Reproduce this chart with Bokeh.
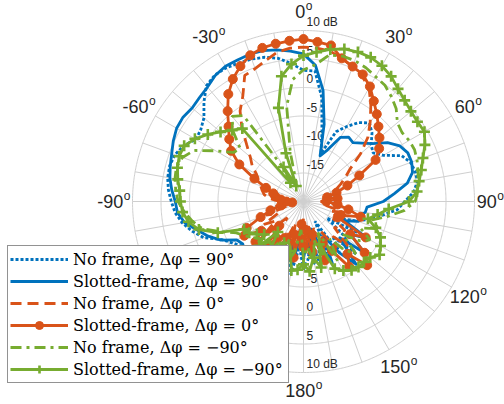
import numpy as np
from bokeh.plotting import figure
from bokeh.models import Range1d, Legend, LegendItem
from bokeh.embed import file_html
from bokeh.resources import INLINE

# ---------------- data (dB vs azimuth angle in degrees) ----------------
THETA_DEG = list(range(-180, 180, 5))

# No frame, dphi = 90
NF_90 = [-8, -12, -7, -10, -14, -9, -11, -8, -10, -9,
         -7.5, -6.5, -5.5, -4.2, -1.4, 0.2, 1.6, 2.6, 3.2, 3.8,
         4.2, 4.3, 4.0, 3.2, 1.8, 2.0, 2.8, 4.7, 6.5, 7.1,
         7.1, 6.8, 6.6, 6.2, 5.5, 4.3, 3.0, 3.0, -1.5, -7.5,
         -11, -6.5, -4.8, -3.1, -2.0, -3.0, -4.5, -5.1, -3.8, -1.0,
         0.0, 0.3, 0.3, -0.6, -2.2, -3.5, -6, -8, -10, -13,
         -9, -15, -11, -7, -12, -9, -16, -10, -13, -8, -14, -10]
# Slotted-frame, dphi = 90
SF_90 = [-10, -14, -9, -12, -8, -11, -10, -7, -9, -8,
         -6.5, -7, -6.5, -4, -2.2, -0.7, 1.2, 2.2, 2.5, 3.2,
         3.8, 4.2, 4.6, 5.2, 5.7, 5.8, 5.5, 5.8, 6.2, 7.0,
         7.4, 7.4, 7.5, 7.4, 7.0, 6.5, 5.9, 4.0, -0.2, -6,
         -11.5, -10, -7, -6.2, -6.5, -5.5, -4.2, -2, -0.5, 0.2,
         0.2, -0.2, -1.5, -4, -6, -8.8, -9, -10, -9.8, -12,
         -7, -10, -6, -11, -5.6, -9, -13, -8, -12, -15, -9, -13]
# No frame, dphi = 0
NF_0 = [-17, -12, -15, -11, -16, -12, -14, -10, -13, -16,
        -11, -14, -12, -15, -13, -17, -15, -18, -16, -14,
        -13, -12.5, -12, -11.2, -10.5, -9, -7.8, -5.9, -3.2, -0.6,
        1.3, 4.4, 4.8, 5.6, 6.6, 7.0, 7.1, 7.0, 6.8, 6.0,
        5.2, 4.3, 3.0, 0.6, -1.8, -4.0, -6.9, -10, -11.5, -12.8,
        -14, -15, -15.8, -15, -17, -14, -16, -13, -15, -12,
        -14, -11, -13, -9, -12, -10, -14, -11, -15, -13, -16, -12]
# Slotted-frame, dphi = 0
SF_0 = [-12, -16, -10, -14, -9, -13, -8, -12, -10, -14,
        -9, -11, -8, -9, -12, -14, -16, -18, -17, -16,
        -15, -14.5, -13, -10.5, -7, -4.5, -3, -1.4, 0.7, 3.0,
        4.8, 6.2, 7.3, 7.9, 8.1, 8.3, 8.5, 8.1, 7.8, 6.0,
        5.2, 4.6, 3.3, 1.5, 0, -1.4, -2.6, -3.8, -5.4, -9.2,
        -11.8, -14, -15.8, -14, -16, -14, -12, -9.6, -13, -13.4,
        -7.4, -10, -6, -4.2, -8, -6, -10, -12, -9, -14, -11, -15]
# No frame, dphi = -90
NF_M90 = [-10, -15, -11, -9, -13, -10, -12, -9, -11, -8.5,
          -10, -9, -8, -7, -4.5, -1.6, -0.2, 1.0, 2.0, 2.5,
          2.9, 3.1, 2.6, 1.2, -2.2, -5, -5.5, -2.5, -0.5, -1.6,
          -14, -17, -16, -11, -3, 1.5, 3.1, 4.1, 6.1, 6.4,
          6.3, 5.9, 5.3, 4.9, 4.0, 3.0, 1.5, 1.1, 1.4, 1.5,
          1.2, 0.8, 0.4, 0.1, -0.4, -2.2, -5, -7.5, -6, -9,
          -6.5, -8, -11, -7, -9, -12, -8, -14, -10, -13, -9, -12]
# Slotted-frame, dphi = -90
SF_M90 = [-9, -8, -7.7, -11, -9, -12, -8, -10, -13, -9,
          -11, -10, -9, -8.5, -4, -1, 0.5, 1.3, 1.6, 1.8,
          2.4, 2.9, 3.2, 3.1, 2, 0.5, -1, -2.3, -3.3, -16,
          -13, -17, -11, -3, 2.3, 4.2, 5.6, 6.3, 7.1, 7.7,
          7.9, 7.9, 7.5, 6.8, 5.8, 5.1, 4.6, 4.4, 4.5, 3.5,
          2.3, 1.4, 0.6, 0, -1.5, -5, -6.8, -8.3, -6.5, -5.1,
          -4.4, -3.7, -4.7, -5, -5, -5.3, -6, -7, -12, -8, -10, -7.7]

R_LIM = (-20, 10)
R_TICKS = [-15, -10, -5, 0, 5, 10]
R_TICK_LABELS = ["-15", "-10", "-5", "0", "5", "10 dB"]
R_TICKS_BOTTOM = [-5, 0, 5, 10]
R_TICK_LABELS_BOTTOM = ["-5", "0", "5", "10 dB"]
THETA_TICKS = [0, 30, 60, 90, 120, 150, 180, -150, -120, -90, -60, -30]
THETA_GRID = list(range(0, 360, 10))
LEGEND_LABELS = ["No frame, \u0394\u03c6 = 90\u00b0",
                 "Slotted-frame, \u0394\u03c6 = 90\u00b0",
                 "No frame, \u0394\u03c6 = 0\u00b0",
                 "Slotted-frame, \u0394\u03c6 = 0\u00b0",
                 "No frame, \u0394\u03c6 = \u221290\u00b0",
                 "Slotted-frame, \u0394\u03c6 = \u221290\u00b0"]

# ---------------- style / layout ----------------
BLUE, ORANGE, GREEN = "#0072BD", "#D95319", "#77AC30"
GRID = "#cfcfcf"
TXT = "#262626"
W, H = 504, 404
CX, CY = 303.0, 201.0      # polar centre inside the figure, px
PX = 5.7                   # px per dB
RMAX = R_LIM[1] - R_LIM[0]

p = figure(width=W, height=H, output_backend="svg", toolbar_location=None,
           x_range=Range1d(-CX / PX, (W - CX) / PX),
           y_range=Range1d(-(H - CY) / PX, CY / PX),
           min_border=0, x_axis_type=None, y_axis_type=None)
p.outline_line_color = None
p.background_fill_color = "white"
p.border_fill_color = "white"


def pol(theta_deg, db):
    th = np.radians(np.asarray(theta_deg, float))
    r = np.clip(np.asarray(db, float) - R_LIM[0], 0, None)
    return r * np.sin(th), r * np.cos(th)


# grid rings
t = np.linspace(0, 2 * np.pi, 721)
xs, ys = [], []
for d in R_TICKS:
    rr = d - R_LIM[0]
    xs.append(list(rr * np.sin(t)))
    ys.append(list(rr * np.cos(t)))
p.multi_line(xs, ys, line_color=GRID, line_width=1)

# spokes
th = np.radians(THETA_GRID)
p.segment(x0=0, y0=0, x1=RMAX * np.sin(th), y1=RMAX * np.cos(th),
          line_color=GRID, line_width=1)

# radial tick labels (top and bottom)
ry = [d - R_LIM[0] for d in R_TICKS] + [-(d - R_LIM[0]) for d in R_TICKS_BOTTOM]
rl = R_TICK_LABELS + R_TICK_LABELS_BOTTOM
p.text(x=[0] * len(ry), y=ry, text=rl, x_offset=3, y_offset=-9,
       text_font_size="12px", text_font={"value": "Liberation Sans"},
       text_align="left", text_baseline="middle", text_color=TXT)

# data curves
def closed(a):
    return list(a) + [a[0]]

TH = closed(THETA_DEG)
x, y = pol(TH, closed(NF_90))
r_nf90 = p.line(x, y, line_color=BLUE, line_width=2.8, line_dash="3 2")
x, y = pol(TH, closed(SF_90))
r_sf90 = p.line(x, y, line_color=BLUE, line_width=2.8, line_join="round")
x, y = pol(TH, closed(NF_0))
r_nf0 = p.line(x, y, line_color=ORANGE, line_width=2.8, line_dash="11 6")
x, y = pol(TH, closed(SF_0))
r_sf0 = p.line(x, y, line_color=ORANGE, line_width=2.8, line_join="round")
r_sf0m = p.scatter(x, y, marker="circle", size=9, fill_color=ORANGE,
                   line_color=ORANGE)
x, y = pol(TH, closed(NF_M90))
r_nfm90 = p.line(x, y, line_color=GREEN, line_width=2.8, line_dash="11 5 3 5")
x, y = pol(TH, closed(SF_M90))
r_sfm90 = p.line(x, y, line_color=GREEN, line_width=2.8, line_join="round")
r_sfm90m = p.scatter(x, y, marker="cross", size=11, line_width=2.6,
                     line_color=GREEN)

# angular tick labels: number + superscript "o"
FS, FSO = 18, 12
RL = 190.0  # px
num_x, num_y, num_t = [], [], []
num_xo, o_xo = [], []
for a in THETA_TICKS:
    s = str(a)
    wn = sum(0.333 * FS if ch == "-" else 0.556 * FS for ch in s)
    wo = 0.556 * FSO
    tot = wn + wo
    cxp = RL * np.sin(np.radians(a))
    cyp = RL * np.cos(np.radians(a))
    # keep labels inside the drawing area
    left = CX + cxp - tot / 2
    if left + tot > W - 1:
        cxp -= (left + tot) - (W - 1)
    top = CY - cyp - 10
    if top < 1:
        cyp -= 1 - top
    bot = CY - cyp + 10
    if bot > H - 4:
        cyp += bot - (H - 4)
    num_x.append(cxp / PX); num_y.append(cyp / PX); num_t.append(s)
    num_xo.append(-tot / 2)
    o_xo.append(-tot / 2 + wn + 0.5)

p.text(x=num_x, y=num_y, text=num_t, x_offset=num_xo, y_offset=0,
       text_font_size=f"{FS}px", text_font={"value": "Liberation Sans"},
       text_align="left", text_baseline="middle", text_color=TXT)
p.text(x=num_x, y=num_y, text=["o"] * len(num_x), x_offset=o_xo, y_offset=-5.5,
       text_font_size=f"{FSO}px", text_font={"value": "Liberation Sans"},
       text_align="left", text_baseline="middle", text_color=TXT)

# legend
items = [LegendItem(label=LEGEND_LABELS[0], renderers=[r_nf90]),
         LegendItem(label=LEGEND_LABELS[1], renderers=[r_sf90]),
         LegendItem(label=LEGEND_LABELS[2], renderers=[r_nf0]),
         LegendItem(label=LEGEND_LABELS[3], renderers=[r_sf0, r_sf0m]),
         LegendItem(label=LEGEND_LABELS[4], renderers=[r_nfm90]),
         LegendItem(label=LEGEND_LABELS[5], renderers=[r_sfm90, r_sfm90m])]
leg = Legend(items=items, location=(7, 21), orientation="vertical",
             label_text_font="DejaVu Serif", label_text_font_size="16px",
             label_text_color="black", glyph_width=58, glyph_height=20,
             label_height=22, label_width=213, label_standoff=5, spacing=0,
             padding=2, margin=0, border_line_color=TXT, border_line_width=1,
             background_fill_color="white", background_fill_alpha=1.0)
p.add_layout(leg)

open("out.html", "w").write(file_html(p, INLINE))
